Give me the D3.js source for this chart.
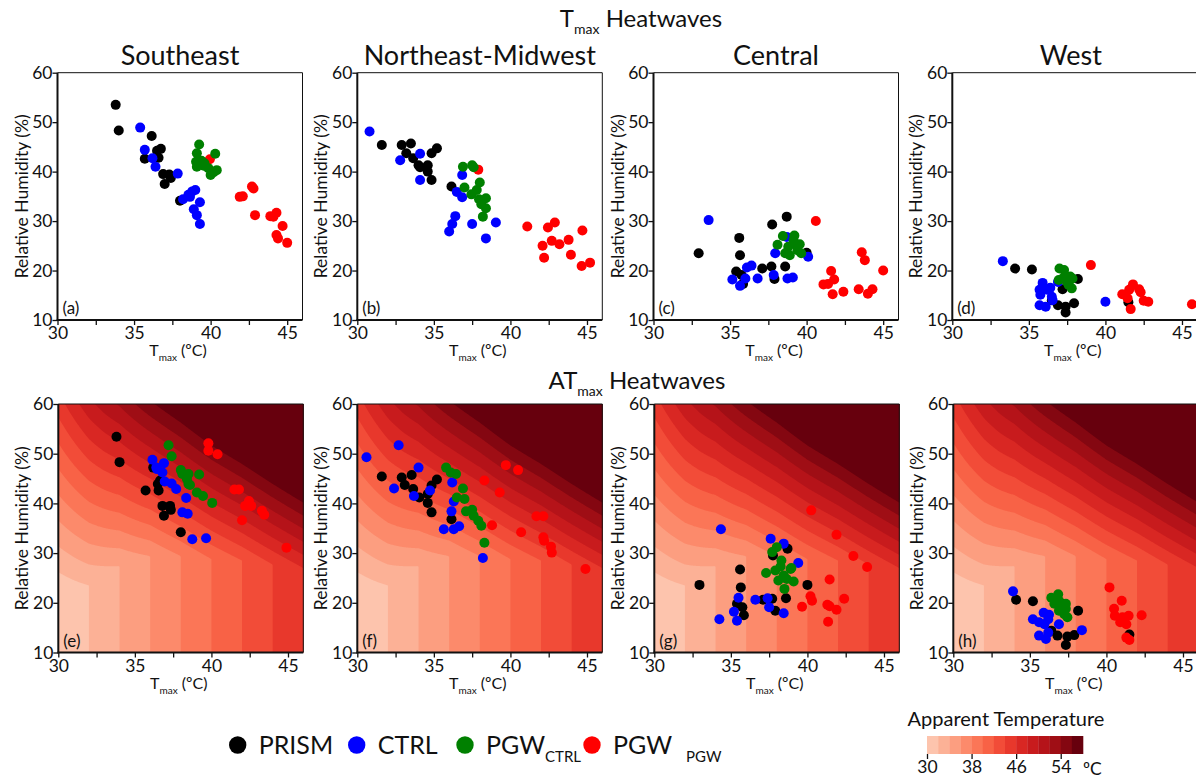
<!DOCTYPE html>
<html><head><meta charset="utf-8">
<script src="https://cdn.jsdelivr.net/npm/d3@7"></script>
<style>
body{margin:0;background:#fff}
text{font-family:Lato,"Open Sans",sans-serif;fill:#111}
</style>
</head><body>
<svg id="chart" width="1196" height="781"></svg>
<script>
// ---------- categories / labels ----------
const regions = ["Southeast","Northeast-Midwest","Central","West"];
const topLetters = ["(a)","(b)","(c)","(d)"];
const bottomLetters = ["(e)","(f)","(g)","(h)"];
const seriesColors = ["#000000","#0000ff","#008000","#ff0000"]; // PRISM, CTRL, PGW_CTRL, PGW_PGW
const xTickValues = [30,32.5,35,37.5,40,42.5,45];
const yTickValues = [10,20,30,40,50,60];
const cbTicks = [30,38,46,54];
const atLevels = [30,32,34,36,38,40,42,44,46,48,50,52,54,56];

// ---------- background apparent-temperature surface ----------
const bendT  = [30,32,34,36,38,40,42,44,46];
const bendRH = [21,23.5,27.4,29.4,29.4,28.8,28.5,27.7,27];
const slopeT = [30,33,36,40,46];
const slopeV = [0.385,0.52,0.64,0.70,0.76];

// ---------- Tmax heatwaves (top row) : [Tmax, RH] ----------
const tSE_PRISM = [[33.8,53.5],[34.0,48.3],[36.15,47.2],[35.7,42.6],[36.5,44.2],[36.75,44.6],[36.6,42.8],[36.9,39.5],[37.3,39.4],[37.4,38.7],[37.0,37.5],[38.0,34.1]];
const tSE_CTRL  = [[35.4,48.9],[35.7,44.4],[36.2,42.7],[36.4,41.0],[37.85,39.6],[38.2,34.4],[38.55,35.3],[38.8,36.0],[39.0,36.3],[38.65,34.9],[38.9,32.4],[39.3,33.8],[39.1,31.2],[39.3,29.4]];
const tSE_PGWC  = [[39.25,45.5],[39.1,43.7],[40.3,43.6],[39.05,42.0],[39.4,42.2],[39.6,41.7],[39.1,41.0],[39.85,40.7],[40.2,39.9],[40.4,40.3],[40.0,39.3],[39.55,41.2]];
const tSE_PGWP  = [[39.95,42.5],[41.9,34.9],[42.1,35.0],[42.8,36.6],[42.7,37.0],[42.9,31.2],[43.9,31.0],[44.1,30.9],[44.3,31.7],[44.3,27.2],[44.4,26.5],[44.7,29.0],[45.0,25.6]];

const tNE_PRISM = [[31.6,45.4],[32.9,45.4],[33.5,45.7],[33.2,43.7],[33.65,42.7],[34.0,41.3],[34.1,40.9],[34.6,41.3],[34.6,40.0],[34.85,43.7],[35.2,44.7],[34.85,38.3],[36.15,37.0]];
const tNE_CTRL  = [[30.8,48.1],[32.8,42.3],[34.1,43.6],[34.1,38.3],[36.85,39.3],[36.5,35.9],[36.85,34.8],[36.4,31.0],[36.2,29.4],[36.0,27.9],[37.5,29.4],[39.05,29.7],[38.4,26.5]];
const tNE_PGWC  = [[36.9,41.0],[37.5,41.3],[37.6,40.9],[37.0,36.8],[38.0,37.8],[37.8,36.3],[37.45,35.4],[37.95,34.4],[38.4,34.6],[38.1,33.4],[38.4,32.6],[38.2,30.9]];
const tNE_PGWP  = [[37.9,40.4],[41.1,28.9],[42.45,28.7],[42.9,29.7],[42.7,26.0],[43.2,25.3],[42.1,25.0],[42.2,22.6],[43.8,26.2],[43.95,23.2],[44.7,28.1],[44.65,20.9],[45.2,21.6]];

const tCE_PRISM = [[32.95,23.5],[35.6,26.6],[35.65,23.1],[35.4,19.8],[35.75,19.1],[35.85,17.3],[37.1,20.4],[37.7,20.8],[37.9,18.3],[38.6,20.8],[37.75,29.3],[38.7,30.9],[40.0,23.6]];
const tCE_CTRL  = [[33.6,30.2],[35.15,18.2],[35.65,16.9],[36.0,18.4],[36.1,20.6],[36.4,21.0],[36.8,18.4],[37.85,19.1],[37.95,23.5],[38.7,26.8],[38.75,18.4],[39.1,18.6],[40.1,22.8]];
const tCE_PGWC  = [[38.45,27.0],[39.2,27.1],[38.1,25.2],[39.3,25.2],[39.55,25.3],[38.8,24.8],[38.9,23.1],[38.6,23.5],[39.65,23.5],[39.15,26.1],[39.4,24.1]];
const tCE_PGWP  = [[40.6,30.0],[41.6,19.9],[41.4,17.3],[41.8,18.2],[41.1,17.2],[41.7,15.2],[42.4,15.7],[43.6,23.7],[43.8,22.1],[43.4,16.2],[44.0,15.3],[44.3,16.2],[45.0,20.0]];

const tWE_PRISM = [[34.1,20.4],[35.2,20.2],[38.2,18.3],[37.2,16.2],[36.9,13.0],[37.4,12.7],[37.4,11.5],[37.95,13.4],[41.5,13.6],[36.5,14.0]];
const tWE_CTRL  = [[33.3,21.9],[35.9,17.5],[35.7,16.1],[36.2,16.1],[36.4,16.5],[35.75,15.1],[36.5,14.7],[36.55,14.0],[35.7,13.0],[36.1,12.7],[36.9,17.7],[40.0,13.7]];
const tWE_PGWC  = [[37.0,20.4],[37.3,20.1],[37.4,18.8],[37.7,18.8],[36.95,18.1],[37.6,17.1],[37.8,16.4],[37.2,18.4],[37.5,17.7],[37.85,18.4]];
const tWE_PGWP  = [[39.05,21.1],[41.1,15.2],[41.8,17.2],[42.2,16.2],[41.55,16.1],[42.3,15.6],[42.5,13.9],[42.8,13.7],[41.65,12.2],[45.65,13.2],[41.45,14.4]];

// ---------- ATmax heatwaves (bottom row) ----------
const aSE_PRISM = [[33.8,53.4],[34.0,48.3],[36.2,47.2],[35.7,42.6],[36.5,43.9],[36.65,44.6],[36.55,42.6],[36.8,39.5],[37.3,39.5],[37.35,38.7],[36.9,37.5],[38.0,34.2]];
const aSE_CTRL  = [[36.15,48.8],[36.4,47.2],[36.9,48.1],[36.8,46.2],[36.95,44.4],[37.4,44.0],[37.7,42.9],[38.35,41.1],[38.1,38.2],[38.45,37.9],[38.75,32.8],[39.65,33.0],[36.45,46.9]];
const aSE_PGWC  = [[37.2,51.7],[37.4,49.5],[38.0,46.7],[38.1,45.9],[38.5,45.9],[39.2,45.8],[38.5,43.9],[38.6,43.7],[39.05,42.2],[39.45,41.5],[40.05,40.1],[38.4,44.9]];
const aSE_PGWP  = [[39.8,52.1],[39.8,50.6],[40.4,49.9],[41.5,42.8],[41.8,42.8],[42.45,40.5],[42.2,39.5],[42.6,39.5],[42.0,36.6],[43.3,38.5],[43.45,37.7],[44.9,31.1]];

const aNE_PRISM = [[31.6,45.4],[32.9,45.2],[33.55,45.7],[33.1,43.7],[33.65,42.9],[34.05,41.2],[34.6,40.1],[34.6,41.9],[34.85,43.6],[35.2,44.8],[34.85,38.2],[36.15,36.8]];
const aNE_CTRL  = [[30.6,49.3],[32.7,51.7],[34.0,47.2],[32.4,43.0],[33.7,41.5],[34.75,42.6],[36.2,44.2],[36.3,40.4],[36.15,38.4],[35.65,34.8],[36.3,34.8],[36.65,35.4],[38.2,29.0]];
const aNE_PGWC  = [[35.8,47.2],[36.1,46.2],[36.45,45.9],[36.9,43.0],[37.0,40.9],[36.5,41.2],[37.1,38.4],[37.5,38.7],[37.6,37.5],[37.9,36.5],[38.1,35.5],[38.3,32.1]];
const aNE_PGWP  = [[38.3,44.6],[39.7,47.7],[40.5,46.7],[39.3,42.2],[38.8,35.6],[41.7,37.4],[42.15,37.4],[40.7,34.2],[42.15,33.2],[42.2,32.5],[42.65,31.3],[42.7,30.1],[44.9,26.8]];

const aCE_PRISM = [[32.95,23.6],[35.6,26.7],[35.65,23.1],[35.4,19.8],[35.75,19.1],[35.85,17.5],[37.1,20.6],[37.7,20.8],[37.9,18.4],[38.6,20.9],[37.75,29.5],[38.7,30.9],[40.0,23.6]];
const aCE_CTRL  = [[34.35,34.8],[34.25,16.7],[35.2,18.2],[35.4,16.4],[35.5,21.0],[36.6,20.6],[37.4,20.9],[37.5,19.1],[37.6,32.9],[38.45,31.9],[39.4,28.0],[38.45,17.9]];
const aCE_PGWC  = [[37.7,30.2],[38.0,31.2],[38.3,28.5],[38.25,27.3],[38.9,26.8],[37.3,26.0],[37.9,26.5],[38.45,25.5],[38.1,24.5],[38.65,24.8],[39.1,24.3],[38.5,22.8],[38.95,27.0]];
const aCE_PGWP  = [[40.25,38.6],[41.9,33.7],[43.0,29.4],[43.9,27.2],[41.45,24.7],[40.2,21.3],[40.3,20.4],[39.65,19.2],[41.3,19.6],[41.45,19.3],[41.9,18.6],[42.4,20.8],[41.35,16.2]];

const aWE_PRISM = [[34.1,20.6],[35.2,20.3],[38.15,18.4],[37.1,19.8],[36.8,13.4],[37.45,13.2],[37.35,11.5],[37.9,13.5],[41.5,13.6],[36.4,14.4]];
const aWE_CTRL  = [[33.9,22.3],[35.9,18.0],[35.2,16.7],[35.6,16.1],[36.25,17.6],[35.95,15.7],[36.2,16.7],[36.9,15.7],[35.6,13.4],[36.05,12.7],[36.2,14.0],[38.4,14.5]];
const aWE_PGWC  = [[36.4,21.0],[36.85,21.7],[36.6,19.8],[37.1,19.1],[37.35,18.8],[36.9,18.4],[37.25,17.7],[37.45,17.1],[36.9,20.4],[37.35,19.8]];
const aWE_PGWP  = [[40.2,23.1],[41.0,20.4],[40.5,18.8],[40.55,17.4],[40.9,16.1],[41.3,15.7],[41.45,17.4],[42.3,17.5],[41.3,13.0],[41.5,12.5],[41.05,17.1]];

// series order per panel: PRISM, CTRL, PGW_CTRL, PGW_PGW
const topData = [
  [tSE_PRISM,tSE_CTRL,tSE_PGWC,tSE_PGWP],
  [tNE_PRISM,tNE_CTRL,tNE_PGWC,tNE_PGWP],
  [tCE_PRISM,tCE_CTRL,tCE_PGWC,tCE_PGWP],
  [tWE_PRISM,tWE_CTRL,tWE_PGWC,tWE_PGWP]];
const botData = [
  [aSE_PRISM,aSE_CTRL,aSE_PGWC,aSE_PGWP],
  [aNE_PRISM,aNE_CTRL,aNE_PGWC,aNE_PGWP],
  [aCE_PRISM,aCE_CTRL,aCE_PGWC,aCE_PGWP],
  [aWE_PRISM,aWE_CTRL,aWE_PGWC,aWE_PGWP]];
const drawOrder = [0,1,3,2];

// ---------- layout ----------
const svg = d3.select("#chart");
const W = 245;
const topLefts = [57.5,357.3,653.5,952.3];
const botLefts = [58.3,357.3,654.3,953.3];
const topY = 72.7, topH = 247.3;
const botY = 404, botH = 248.5;

const x = d3.scaleLinear().domain([30,46]).range([0,W]);
const yTop = d3.scaleLinear().domain([10,60]).range([topH,0]);
const yBot = d3.scaleLinear().domain([10,60]).range([botH,0]);

const colorIdx = d3.range(atLevels.length);
const bandColors = colorIdx.map(i => d3.interpolateReds(0.22 + i*0.78/13));

function subText(g, px, py, parts, anchor, size, subSize, subDy){
  const t = g.append("text").attr("x",px).attr("y",py)
    .attr("text-anchor",anchor).style("font-size",size+"px");
  parts.forEach(p=>{
    if(p.sub){
      const ts = t.append("tspan").attr("dy",subDy).style("font-size",subSize+"px").text(p.t);
      if(p.dx) ts.attr("dx",p.dx);
    } else {
      const ts = t.append("tspan").text(p.t);
      if(p.after) ts.attr("dy",-subDy);
    }
  });
  return t;
}

// apparent temperature model
const rScale = d3.scaleLinear().domain(bendT).range(bendRH).clamp(true);
const sScale = d3.scaleLinear().domain(slopeT).range(slopeV).clamp(true);
function appT(T,RH){ return Math.max(T, T + sScale(T)*(RH - rScale(T))); }

const nx = 321, ny = 201, dT = 16/(nx-1), dR = 50/(ny-1);
const grid = new Array(nx*ny);
for(let j=0;j<ny;j++) for(let i=0;i<nx;i++) grid[j*nx+i] = appT(30+i*dT, 10+j*dR);
const contours = d3.contours().size([nx,ny]).thresholds(atLevels)(grid);
const proj = d3.geoTransform({point:function(gx,gy){
  this.stream.point(x(30+(gx-0.5)*dT), yBot(10+(gy-0.5)*dR));
}});
const cpath = d3.geoPath(proj);

function drawPanel(left, top, H, y, data, letter, idx, bottom){
  const g = svg.append("g").attr("transform",`translate(${left},${top})`);
  const cid = "clip"+idx;
  svg.append("defs").append("clipPath").attr("id",cid)
    .append("rect").attr("width",W).attr("height",H);
  const inner = g.append("g").attr("clip-path",`url(#${cid})`);
  if(bottom){
    inner.append("rect").attr("width",W).attr("height",H).attr("fill",bandColors[0]);
    inner.selectAll("path.band").data(contours).join("path").attr("class","band")
      .attr("d",cpath)
      .attr("fill",d=>bandColors[atLevels.indexOf(d.value)]);
  }
  drawOrder.forEach(s=>{
    inner.append("g").selectAll("circle").data(data[s]).join("circle")
      .attr("cx",d=>x(d[0])).attr("cy",d=>y(d[1])).attr("r",5)
      .attr("fill",seriesColors[s]);
  });
  // axes
  const xa = d3.axisBottom(x).tickValues(xTickValues).tickSize(5).tickSizeOuter(0)
    .tickFormat(d=> d%5===0 ? d : "");
  const gx = g.append("g").attr("transform",`translate(0,${H})`).call(xa);
  const ya = d3.axisLeft(y).tickValues(yTickValues).tickSize(5).tickSizeOuter(0);
  const gy = g.append("g").call(ya);
  [gx,gy].forEach(a=>{
    a.select(".domain").remove();
    a.selectAll("text").style("font-size","17.5px").style("font-family","Lato,'Open Sans',sans-serif").attr("fill","#111");
    a.selectAll("line").attr("stroke","#111").attr("stroke-width",1.3);
  });
  gy.selectAll("text").attr("x",-5);
  gx.selectAll("text").attr("y",7);
  // frame
  g.append("line").attr("x1",0).attr("x2",W).attr("y1",0).attr("y2",0).attr("stroke","#111").attr("stroke-width",1);
  g.append("line").attr("x1",W).attr("x2",W).attr("y1",0).attr("y2",H).attr("stroke","#111").attr("stroke-width",1);
  g.append("line").attr("x1",0).attr("x2",0).attr("y1",0).attr("y2",H+0.8).attr("stroke","#111").attr("stroke-width",2);
  g.append("line").attr("x1",-0.8).attr("x2",W).attr("y1",H).attr("y2",H).attr("stroke","#111").attr("stroke-width",2);
  // letter
  g.append("text").attr("x",5).attr("y",H-6).style("font-size","17px").text(letter);
  // y label
  g.append("text").attr("transform",`translate(-30,${H/2}) rotate(-90)`)
    .attr("text-anchor","middle").style("font-size","17.5px").text("Relative Humidity (%)");
  // x label
  subText(g, W/2 - 2, H+36, [{t:"T"},{t:"max",sub:true},{t:" (ºC)",after:true}], "middle", 16, 10, 5);
}

regions.forEach((r,i)=>{
  drawPanel(topLefts[i], topY, topH, yTop, topData[i], topLetters[i], i, false);
  drawPanel(botLefts[i], botY, botH, yBot, botData[i], bottomLetters[i], i+4, true);
  svg.append("text").attr("x",topLefts[i]+W/2 + (i===3?-4:0)).attr("y",65).attr("text-anchor","middle")
    .style("font-size","27px").text(r);
});

// super titles
subText(svg, 641, 27, [{t:"T"},{t:"max",sub:true},{t:" Heatwaves",after:true}], "middle", 24, 14, 7);
subText(svg, 637, 389, [{t:"AT"},{t:"max",sub:true},{t:" Heatwaves",after:true}], "middle", 24, 14, 7);

// legend
const legendX = [237.7,356.7,465,592];
const legendLabels = [[{t:"PRISM"}],[{t:"CTRL"}],[{t:"PGW"},{t:"CTRL",sub:true}],[{t:"PGW"},{t:"PGW",sub:true,dx:14}]];
legendX.forEach((lx,i)=>{
  svg.append("circle").attr("cx",lx).attr("cy",745).attr("r",8.7).attr("fill",seriesColors[i]);
  subText(svg, lx+21, 754, legendLabels[i], "start", 25, 15, 8);
});

// colorbar
const cbX = d3.scaleLinear().domain([30,58]).range([927,1083]);
svg.append("g").selectAll("rect").data(atLevels).join("rect")
  .attr("x",d=>cbX(d)).attr("width",d=>cbX(d+2)-cbX(d)+0.3).attr("y",736).attr("height",18)
  .attr("fill",(d,i)=>bandColors[i]);
const cbAxis = d3.axisBottom(cbX).tickValues(cbTicks).tickSize(5).tickSizeOuter(0);
const cbg = svg.append("g").attr("transform","translate(0,754)").call(cbAxis);
cbg.select(".domain").remove();
cbg.selectAll("line").attr("stroke","#111").attr("stroke-width",1.3);
cbg.selectAll("text").style("font-size","17.5px").style("font-family","Lato,'Open Sans',sans-serif").attr("fill","#111").attr("y",7);
svg.append("text").attr("x",1083).attr("y",775).style("font-size","17.5px").text("ºC");
svg.append("text").attr("x",1006).attr("y",726).attr("text-anchor","middle").style("font-size","20px").text("Apparent Temperature");
</script>
</body></html>
